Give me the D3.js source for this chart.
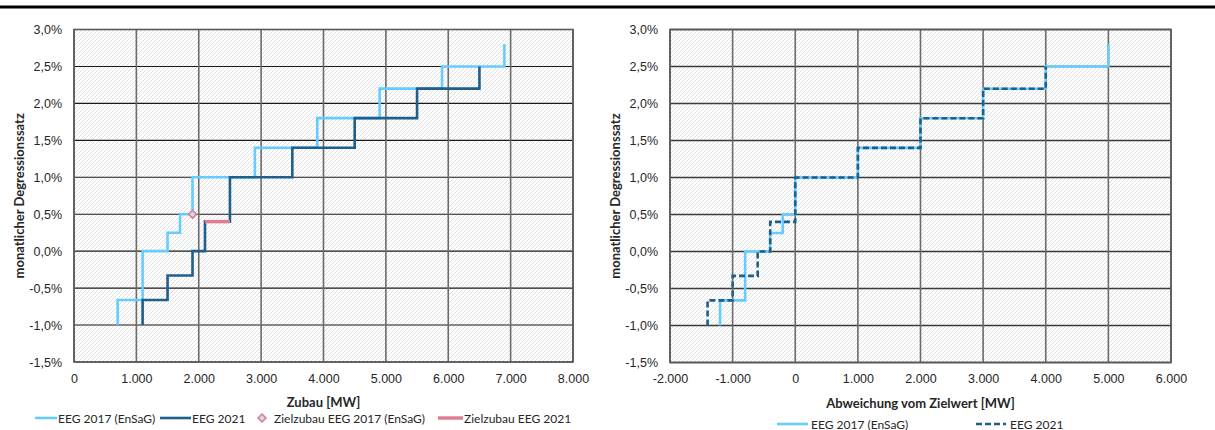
<!DOCTYPE html>
<html>
<head>
<meta charset="utf-8">
<script src="https://cdn.jsdelivr.net/npm/d3@7"></script>
<style>
  body { margin: 0; background: #fff; }
  svg { font-family: Lato, "Open Sans", sans-serif; }
  .tick text { font-size: 12.5px; fill: #262626; }
  .axis-title { font-size: 13px; font-weight: bold; fill: #262626; }
  .legend text { font-size: 12px; fill: #262626; }
</style>
</head>
<body>
<div id="chart"></div>
<script>
// y ticks (monatlicher Degressionssatz in %)
const yTicks = [-1.5, -1.0, -0.5, 0, 0.5, 1.0, 1.5, 2.0, 2.5, 3.0];
const xTicksZubau = [0, 1000, 2000, 3000, 4000, 5000, 6000, 7000, 8000];
const xTicksAbw = [-2000, -1000, 0, 1000, 2000, 3000, 4000, 5000, 6000];

// left chart: step thresholds (MW) and rates (%); rates has one entry more
const zubau2017 = [700, 1100, 1500, 1700, 1900, 2900, 3900, 4900, 5900, 6900];
const rates2017 = [-1.0, -0.66, 0, 0.25, 0.5, 1.0, 1.4, 1.8, 2.2, 2.5, 2.8];
const zubau2021 = [1100, 1500, 1900, 2100, 2500, 3500, 4500, 5500, 6500];
const rates2021 = [-1.0, -0.66, -0.33, 0, 0.4, 1.0, 1.4, 1.8, 2.2, 2.5];

// Zielzubau markers
const ziel2017 = {x: 1900, y: 0.5};
const ziel2021X = [2100, 2500];
const ziel2021Rate = 0.4;

// right chart: deviation from target (MW)
const abw2017 = [-1200, -800, -400, -200, 0, 1000, 2000, 3000, 4000, 5000];
const abw2021 = [-1400, -1000, -600, -400, 0, 1000, 2000, 3000, 4000];

const lightBlue = '#66ccff';
const darkBlue = '#1f5f8b';
const pink = '#e07b91';

const locale = d3.formatLocale({decimal: ',', thousands: '.', grouping: [3], currency: ['', ' €'], minus: '-'});
const fmtX = locale.format(',d');
const fmtY = d => locale.format('.1f')(d) + '%';

const width = 1215, height = 430;
const svg = d3.select('#chart').append('svg')
  .attr('width', width)
  .attr('height', height);

// hatch pattern for plot background
const defs = svg.append('defs');
const pat = defs.append('pattern')
  .attr('id', 'hatch')
  .attr('patternUnits', 'userSpaceOnUse')
  .attr('width', 4).attr('height', 4);
pat.append('rect').attr('width', 4).attr('height', 4).attr('fill', '#fff');
pat.append('path')
  .attr('d', 'M-1,1 l2,-2 M0,4 l4,-4 M3,5 l2,-2')
  .attr('stroke', '#d2d2d2')
  .attr('stroke-width', 0.7);

// top rule under the (cut off) title
svg.append('line')
  .attr('x1', 0).attr('x2', width)
  .attr('y1', 7).attr('y2', 7)
  .attr('stroke', '#000')
  .attr('stroke-width', 3);

function stepPoints(xs, ys) {
  const pts = [];
  xs.forEach((x, i) => {
    pts.push([x, ys[i]]);
    pts.push([x, ys[i + 1]]);
  });
  return pts;
}

function makePanel(opt) {
  const x = d3.scaleLinear().domain(d3.extent(opt.xTicks)).range([opt.left, opt.right]);
  const y = d3.scaleLinear().domain(d3.extent(yTicks)).range([opt.bottom, opt.top]);
  const g = svg.append('g');

  g.append('rect')
    .attr('x', opt.left).attr('y', opt.top)
    .attr('width', opt.right - opt.left).attr('height', opt.bottom - opt.top)
    .attr('fill', 'url(#hatch)');

  // grid
  g.append('g').selectAll('line')
    .data(yTicks)
    .join('line')
    .attr('x1', opt.left).attr('x2', opt.right)
    .attr('y1', d => y(d)).attr('y2', d => y(d))
    .attr('stroke', opt.hColor).attr('stroke-width', opt.hWidth);
  g.append('g').selectAll('line')
    .data(opt.xTicks)
    .join('line')
    .attr('x1', d => x(d)).attr('x2', d => x(d))
    .attr('y1', opt.top).attr('y2', opt.bottom)
    .attr('stroke', '#6b6b6b').attr('stroke-width', 1.6);

  g.append('rect')
    .attr('x', opt.left).attr('y', opt.top)
    .attr('width', opt.right - opt.left).attr('height', opt.bottom - opt.top)
    .attr('fill', 'none')
    .attr('stroke', '#595959').attr('stroke-width', 1.6);

  // axes (labels only)
  g.append('g')
    .attr('transform', `translate(0,${opt.bottom})`)
    .call(d3.axisBottom(x).tickValues(opt.xTicks).tickFormat(fmtX).tickSize(0).tickPadding(12))
    .call(a => a.select('.domain').remove());
  g.append('g')
    .attr('transform', `translate(${opt.left},0)`)
    .call(d3.axisLeft(y).tickValues(yTicks).tickFormat(fmtY).tickSize(0).tickPadding(12))
    .call(a => a.select('.domain').remove());

  g.append('text')
    .attr('class', 'axis-title')
    .attr('text-anchor', 'middle')
    .attr('x', (opt.left + opt.right) / 2)
    .attr('y', opt.bottom + 45)
    .text(opt.xTitle);
  g.append('text')
    .attr('class', 'axis-title')
    .attr('text-anchor', 'middle')
    .attr('transform', `translate(${opt.yTitleX},${(opt.top + opt.bottom) / 2}) rotate(-90)`)
    .text('monatlicher Degressionssatz');

  const line = d3.line().x(d => x(d[0])).y(d => y(d[1]));
  return {g, x, y, line};
}

// left panel
const p1 = makePanel({
  left: 74, right: 573, top: 29.5, bottom: 362,
  xTicks: xTicksZubau, xTitle: 'Zubau [MW]', yTitleX: 24,
  hColor: '#1a1a1a', hWidth: 1.1
});
p1.g.append('path')
  .attr('d', p1.line(stepPoints(zubau2017, rates2017)))
  .attr('fill', 'none').attr('stroke', lightBlue).attr('stroke-width', 2.6);
p1.g.append('path')
  .attr('d', p1.line(stepPoints(zubau2021, rates2021)))
  .attr('fill', 'none').attr('stroke', darkBlue).attr('stroke-width', 2.6);
p1.g.append('path')
  .attr('d', p1.line(ziel2021X.map(v => [v, ziel2021Rate])))
  .attr('fill', 'none').attr('stroke', pink).attr('stroke-width', 3.4);
p1.g.append('path')
  .attr('d', d3.symbol(d3.symbolDiamond2, 40)())
  .attr('transform', `translate(${p1.x(ziel2017.x)},${p1.y(ziel2017.y)})`)
  .attr('fill', '#c9dcf0').attr('stroke', pink).attr('stroke-width', 1.6);

// right panel
const p2 = makePanel({
  left: 670, right: 1171, top: 29.5, bottom: 362.5,
  xTicks: xTicksAbw, xTitle: 'Abweichung vom Zielwert [MW]', yTitleX: 620,
  hColor: '#3a3a3a', hWidth: 1.3
});
p2.g.append('path')
  .attr('d', p2.line(stepPoints(abw2017, rates2017)))
  .attr('fill', 'none').attr('stroke', lightBlue).attr('stroke-width', 2.6);
p2.g.append('path')
  .attr('d', p2.line(stepPoints(abw2021, rates2021)))
  .attr('fill', 'none').attr('stroke', darkBlue).attr('stroke-width', 2.6)
  .attr('stroke-dasharray', '6,3');

// legends
const leg1 = svg.append('g').attr('class', 'legend');
const ly1 = 418;
leg1.append('line').attr('x1', 35).attr('x2', 57).attr('y1', ly1).attr('y2', ly1)
  .attr('stroke', lightBlue).attr('stroke-width', 2.6);
leg1.append('text').attr('x', 58).attr('y', ly1 + 4.5).text('EEG 2017 (EnSaG)');
leg1.append('line').attr('x1', 160).attr('x2', 191).attr('y1', ly1).attr('y2', ly1)
  .attr('stroke', darkBlue).attr('stroke-width', 2.6);
leg1.append('text').attr('x', 192).attr('y', ly1 + 4.5).text('EEG 2021');
leg1.append('path')
  .attr('d', d3.symbol(d3.symbolDiamond2, 40)())
  .attr('transform', `translate(262,${ly1})`)
  .attr('fill', '#c9dcf0').attr('stroke', pink).attr('stroke-width', 1.6);
leg1.append('text').attr('x', 274).attr('y', ly1 + 4.5).text('Zielzubau EEG 2017 (EnSaG)');
leg1.append('line').attr('x1', 438).attr('x2', 463).attr('y1', ly1).attr('y2', ly1)
  .attr('stroke', pink).attr('stroke-width', 3.4);
leg1.append('text').attr('x', 464).attr('y', ly1 + 4.5).text('Zielzubau EEG 2021');

const leg2 = svg.append('g').attr('class', 'legend');
const ly2 = 424;
leg2.append('line').attr('x1', 777).attr('x2', 808).attr('y1', ly2).attr('y2', ly2)
  .attr('stroke', lightBlue).attr('stroke-width', 2.6);
leg2.append('text').attr('x', 811).attr('y', ly2 + 4.5).text('EEG 2017 (EnSaG)');
leg2.append('line').attr('x1', 976).attr('x2', 1006).attr('y1', ly2).attr('y2', ly2)
  .attr('stroke', darkBlue).attr('stroke-width', 2.6).attr('stroke-dasharray', '6,3');
leg2.append('text').attr('x', 1010).attr('y', ly2 + 4.5).text('EEG 2021');
</script>
</body>
</html>
